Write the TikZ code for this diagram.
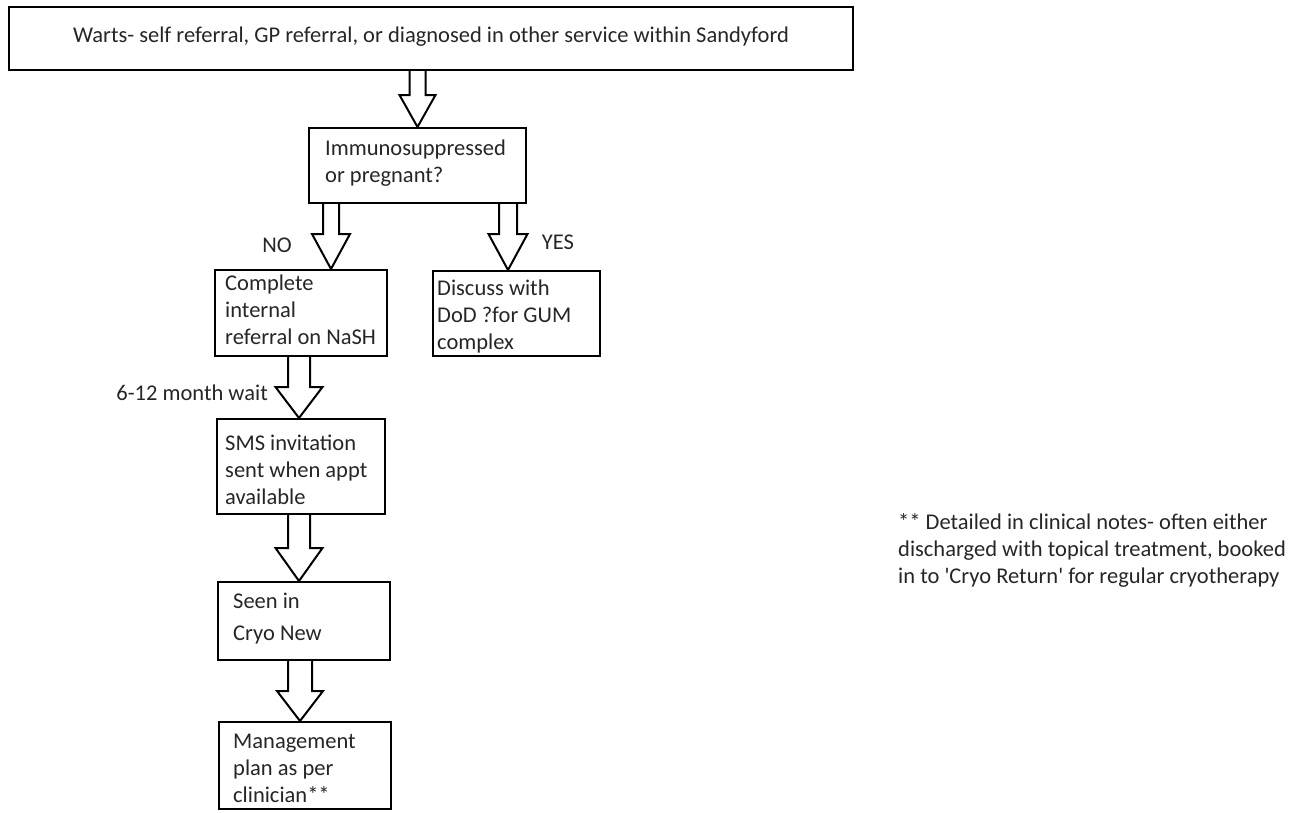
\documentclass[tikz,border=0pt]{standalone}
\usepackage{fontspec}
\setmainfont{Carlito}
\usetikzlibrary{calc}
\tikzset{
  box/.style={draw, line width=2pt, rectangle, inner sep=0pt, anchor=north west},
  txt/.style={font=\fontsize{22.5}{27}\selectfont, align=left, inner sep=0pt, anchor=west, text=black!85},
  blk/.style={draw, line width=2pt, fill=white, line join=miter}
}
% #1 source node, #2 tip coordinate, #3 shaft half width, #4 head half width, #5 head length
\newcommand{\blockarr}[5]{%
  \draw[blk] let \p1=(#2), \p2=(#1.south) in
    (\x1-#3pt,\y2) -- (\x1-#3pt,\y1+#5pt) -- (\x1-#4pt,\y1+#5pt) -- (\x1,\y1)
    -- (\x1+#4pt,\y1+#5pt) -- (\x1+#3pt,\y1+#5pt) -- (\x1+#3pt,\y2);
}
\begin{document}
\begin{tikzpicture}[x=1pt,y=-1pt]
\useasboundingbox (0,0) rectangle (1306,812);

% boxes
\node[box, minimum width=844pt, minimum height=63pt] (top) at (8,6) {};
\node[box, minimum width=217pt, minimum height=75pt] (imm) at (308,127) {};
\node[box, minimum width=172pt, minimum height=86pt] (no) at (214,269) {};
\node[box, minimum width=167pt, minimum height=85pt] (yes) at (432,270) {};
\node[box, minimum width=168pt, minimum height=95pt] (sms) at (216,418) {};
\node[box, minimum width=172pt, minimum height=78pt] (seen) at (217,581) {};
\node[box, minimum width=172pt, minimum height=87pt] (mgmt) at (218,721) {};

% texts
\node[txt, anchor=center] (topT) at (431,37) {Warts- self referral, GP referral, or diagnosed in other service within Sandyford};
\node[txt] (immT) at (325,163.5) {Immunosuppressed\\or pregnant?};
\node[txt] (noT) at (225,309.5) {Complete\\internal\\referral on NaSH};
\node[txt] (yesT) at (437,316) {Discuss with\\DoD ?for GUM\\complex};
\node[txt] (smsT) at (225,470) {SMS invitation\\sent when appt\\available};
\node[txt] (seenT) at (233,619) {Seen in\\[5pt]Cryo New};
\node[txt] (mgmtT) at (233,768) {Management\\plan as per\\clinician**};

% labels
\node[txt, anchor=center] (noL) at (277,245) {NO};
\node[txt, anchor=center] (yesL) at (558,242) {YES};
\node[txt, anchor=east] (waitL) at (268,393) {6-12 month wait};
\node[txt] (note) at (898,550) {** Detailed in clinical notes- often either\\discharged with topical treatment, booked\\in to \textquotesingle Cryo Return\textquotesingle{} for regular cryotherapy};

% block arrows
\blockarr{top}{imm.north}{8}{18}{32}
\blockarr{imm}{$(no.north)+(30,0)$}{8}{19}{35}
\blockarr{imm}{$(yes.north)+(-8.5,0)$}{9}{19.5}{36}
\blockarr{no}{$(sms.north)+(-2,0)$}{11}{23.5}{31}
\blockarr{sms}{$(seen.north)+(-5,0)$}{11}{23.5}{33}
\blockarr{seen}{$(mgmt.north)+(-5,0)$}{12}{23}{30}
\end{tikzpicture}
\end{document}
